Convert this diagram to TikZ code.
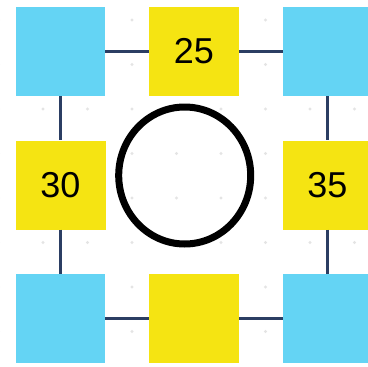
\documentclass[tikz,border=0pt]{standalone}
\usepackage{fontspec}
\setmainfont{Liberation Sans}
\usetikzlibrary{shapes.geometric}
\definecolor{cblue}{RGB}{100,212,244}
\definecolor{cyel}{RGB}{245,228,18}
\definecolor{cnavy}{RGB}{43,62,99}
\definecolor{cdot}{RGB}{228,228,228}
\begin{document}
\begin{tikzpicture}[x=1pt,y=-1pt,
  bluebox/.style={fill=cblue,minimum width=89pt,minimum height=89pt,inner sep=0pt,draw=none},
  yelbox/.style={fill=cyel,minimum width=90pt,minimum height=89pt,inner sep=0pt,draw=none,font=\fontsize{36}{40}\selectfont},
  link/.style={draw=cnavy,line width=3.8pt},
  ring/.style={draw=black,line width=7pt,fill=none}]
\useasboundingbox (0,0) rectangle (367,367);
\fill[white] (0,0) rectangle (367,367);
\foreach \i in {0,...,8}{
  \foreach \j in {0,...,7}{
    \fill[cdot] ({-1.5+44.5*\i},{20+44.5*\j}) circle (1.7pt);
  }
}
\node[bluebox] (b1) at (60.5,51.5) {};
\node[yelbox] (y25) at (194,51.5) {25};
\node[bluebox] (b2) at (327.5,51.5) {};
\node[yelbox] (y30) at (60.5,185) {30};
\node[yelbox] (y35) at (327.5,185) {35};
\node[bluebox] (b3) at (60.5,318.5) {};
\node[yelbox] (ybot) at (194,318.5) {};
\node[bluebox] (b4) at (327.5,318.5) {};
\draw[link] (b1) -- (y25);
\draw[link] (y25) -- (b2);
\draw[link] (b1) -- (y30);
\draw[link] (y30) -- (b3);
\draw[link] (b2) -- (y35);
\draw[link] (y35) -- (b4);
\draw[link] (b3) -- (ybot);
\draw[link] (ybot) -- (b4);
\node[ring,ellipse,minimum width=132pt,minimum height=137pt,inner sep=0pt] (c) at (184.7,175.5) {};
\end{tikzpicture}
\end{document}
